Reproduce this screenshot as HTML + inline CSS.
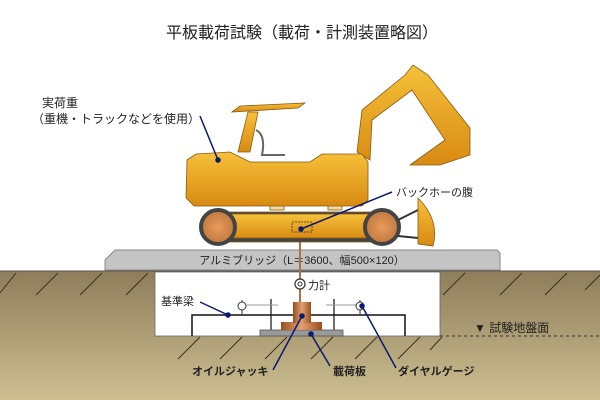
<!DOCTYPE html>
<html><head><meta charset="utf-8"><style>
html,body{margin:0;padding:0;background:#fff;width:600px;height:400px;overflow:hidden}
text{font-family:"Liberation Sans","Noto Sans CJK JP",sans-serif;fill:#222}
</style></head><body>
<svg width="600" height="400" viewBox="0 0 600 400" xmlns="http://www.w3.org/2000/svg">
<defs>
<linearGradient id="g" x1="0" y1="0" x2="0" y2="1"><stop offset="0" stop-color="#8e7d5a"/><stop offset="1" stop-color="#cdbf92"/></linearGradient>
<linearGradient id="o" x1="0" y1="0" x2="0" y2="1"><stop offset="0" stop-color="#f6c13a"/><stop offset="1" stop-color="#d88a12"/></linearGradient>
<radialGradient id="w"><stop offset="0" stop-color="#e99a5a"/><stop offset="1" stop-color="#c07a40"/></radialGradient>
<linearGradient id="br" x1="0" y1="0" x2="1" y2="0"><stop offset="0" stop-color="#9a4e20"/><stop offset="0.5" stop-color="#e0a070"/><stop offset="1" stop-color="#9a4e20"/></linearGradient>
</defs>
<rect x="0" y="271" width="600" height="129" fill="url(#g)"/>
<line x1="0" y1="271" x2="600" y2="271" stroke="#555" stroke-width="1"/>
<g stroke="#3a3020" stroke-width="1">
<line x1="0" y1="293" x2="16" y2="273"/><line x1="36" y1="295" x2="58" y2="273"/><line x1="80" y1="295" x2="102" y2="273"/><line x1="126" y1="295" x2="148" y2="273"/>
<line x1="443" y1="295" x2="465" y2="273"/><line x1="500" y1="295" x2="522" y2="273"/><line x1="545" y1="295" x2="567" y2="273"/><line x1="585" y1="290" x2="600" y2="275"/>
<line x1="178" y1="359" x2="200" y2="337"/><line x1="220" y1="359" x2="242" y2="337"/><line x1="265" y1="359" x2="287" y2="337"/><line x1="311" y1="359" x2="333" y2="337"/><line x1="355" y1="359" x2="377" y2="337"/><line x1="398" y1="359" x2="420" y2="337"/><line x1="430" y1="350" x2="442" y2="337"/>
</g>
<rect x="155" y="272" width="285" height="64" fill="#fff" stroke="#666" stroke-width="0.8"/>
<line x1="440" y1="336" x2="600" y2="336" stroke="#333" stroke-width="1" stroke-dasharray="3,3"/>
<text x="474" y="332" font-size="12">▼ 試験地盤面</text>
<!-- bridge -->
<path d="M105 270 L105 260 L115 250 L497 250 L500 253 L500 270 Z" fill="#c4c4c4" stroke="#888" stroke-width="1"/>
<text x="302" y="264" font-size="11" text-anchor="middle">アルミブリッジ（L＝3600、幅500×120）</text>
<!-- rod & load cell -->
<line x1="300" y1="238" x2="300" y2="302" stroke="#b07040" stroke-width="2"/>
<circle cx="300" cy="284" r="5" fill="#fff" stroke="#333" stroke-width="1.2"/><circle cx="300" cy="284" r="2" fill="none" stroke="#333"/>
<text x="308" y="289" font-size="11">力計</text>
<!-- beam -->
<path d="M192 336 L192 315 L405 315 L405 336" fill="none" stroke="#111" stroke-width="1.5"/>
<line x1="271" y1="299" x2="271" y2="336" stroke="#111" stroke-width="1.2"/>
<line x1="334" y1="299" x2="334" y2="336" stroke="#111" stroke-width="1.2"/>
<line x1="247" y1="305" x2="278" y2="305" stroke="#999" stroke-width="1"/>
<line x1="326" y1="305" x2="356" y2="305" stroke="#999" stroke-width="1"/>
<line x1="242" y1="300" x2="242" y2="315" stroke="#333"/><line x1="360" y1="300" x2="360" y2="315" stroke="#333"/>
<circle cx="242" cy="306" r="4" fill="#fff" stroke="#333"/><circle cx="360" cy="306" r="4" fill="#fff" stroke="#333"/>
<rect x="260" y="330" width="83" height="6" fill="#999" stroke="#555" stroke-width="0.8"/>
<rect x="281" y="322" width="41" height="8" fill="url(#br)"/>
<rect x="293" y="302" width="18" height="21" fill="url(#br)"/>
<!-- labels bottom -->
<g stroke="#0a1a6e" stroke-width="1.5" fill="#0a1a6e">
<line x1="200" y1="302" x2="228" y2="315"/><circle cx="228" cy="315" r="2"/>
<line x1="273" y1="370" x2="302" y2="316"/><circle cx="302" cy="316" r="2"/>
<line x1="330" y1="366" x2="311" y2="334"/><circle cx="311" cy="334" r="2"/>
<line x1="396" y1="368" x2="362" y2="306"/><circle cx="362" cy="306" r="2"/>
</g>
<text x="161" y="305" font-size="11">基準梁</text>
<text x="192" y="375" font-size="11" font-weight="bold">オイルジャッキ</text>
<text x="333" y="375" font-size="11" font-weight="bold">載荷板</text>
<text x="398" y="375" font-size="11" font-weight="bold">ダイヤルゲージ</text>
<!-- excavator -->
<g stroke="#8a5a10" stroke-width="0.8">
<rect x="205" y="212" width="190" height="30" rx="14" fill="#444"/>
<rect x="212" y="214" width="176" height="24" fill="url(#o)"/>
<circle cx="218" cy="227" r="17" fill="url(#w)" stroke="#444" stroke-width="4"/>
<circle cx="382" cy="227" r="17" fill="url(#w)" stroke="#444" stroke-width="4"/>
<path d="M398 220 L418 210 M398 236 L418 238" stroke="#333" stroke-width="2"/>
<path d="M418 198 Q440 220 433 246 L418 244 Z" fill="url(#o)"/>
<rect x="270" y="198" width="14" height="12" fill="#f2d9a0"/><rect x="328" y="198" width="14" height="12" fill="#f2d9a0"/>
<path d="M357 152 L362 110 L405 75 L413 65 L428 75 L470 128 L470 155 L440 165 L410 165 L445 140 L412 90 L372 120 L370 160 Z" fill="url(#o)"/>
<path d="M232 112 L240 106 L305 103 L298 108 Z" fill="url(#o)"/>
<path d="M248 112 L258 112 L250 152 L238 152 Z" fill="url(#o)"/>
<path d="M256 130 Q266 135 262 155 L285 155" fill="none" stroke="#666" stroke-width="2"/>
<path d="M187 160 L196 154 L230 152 L250 162 L310 162 L322 154 L362 154 L368 162 L368 200 L362 206 L194 206 L186 198 Z" fill="url(#o)"/>
<rect x="292" y="222" width="20" height="10" fill="none" stroke="#333" stroke-dasharray="2,1"/>
</g>
<g stroke="#0a1a6e" stroke-width="1.5" fill="#0a1a6e">
<line x1="200" y1="116" x2="218" y2="160"/><circle cx="218" cy="160" r="2"/>
<line x1="392" y1="192" x2="301" y2="229"/><circle cx="301" cy="229" r="2"/>
</g>
<text x="396" y="196" font-size="11">バックホーの腹</text>
<text x="42" y="107" font-size="12">実荷重</text>
<text x="32" y="123" font-size="12">（重機・トラックなどを使用）</text>
<text x="302" y="38" font-size="16" text-anchor="middle">平板載荷試験（載荷・計測装置略図）</text>
</svg>
</body></html>
